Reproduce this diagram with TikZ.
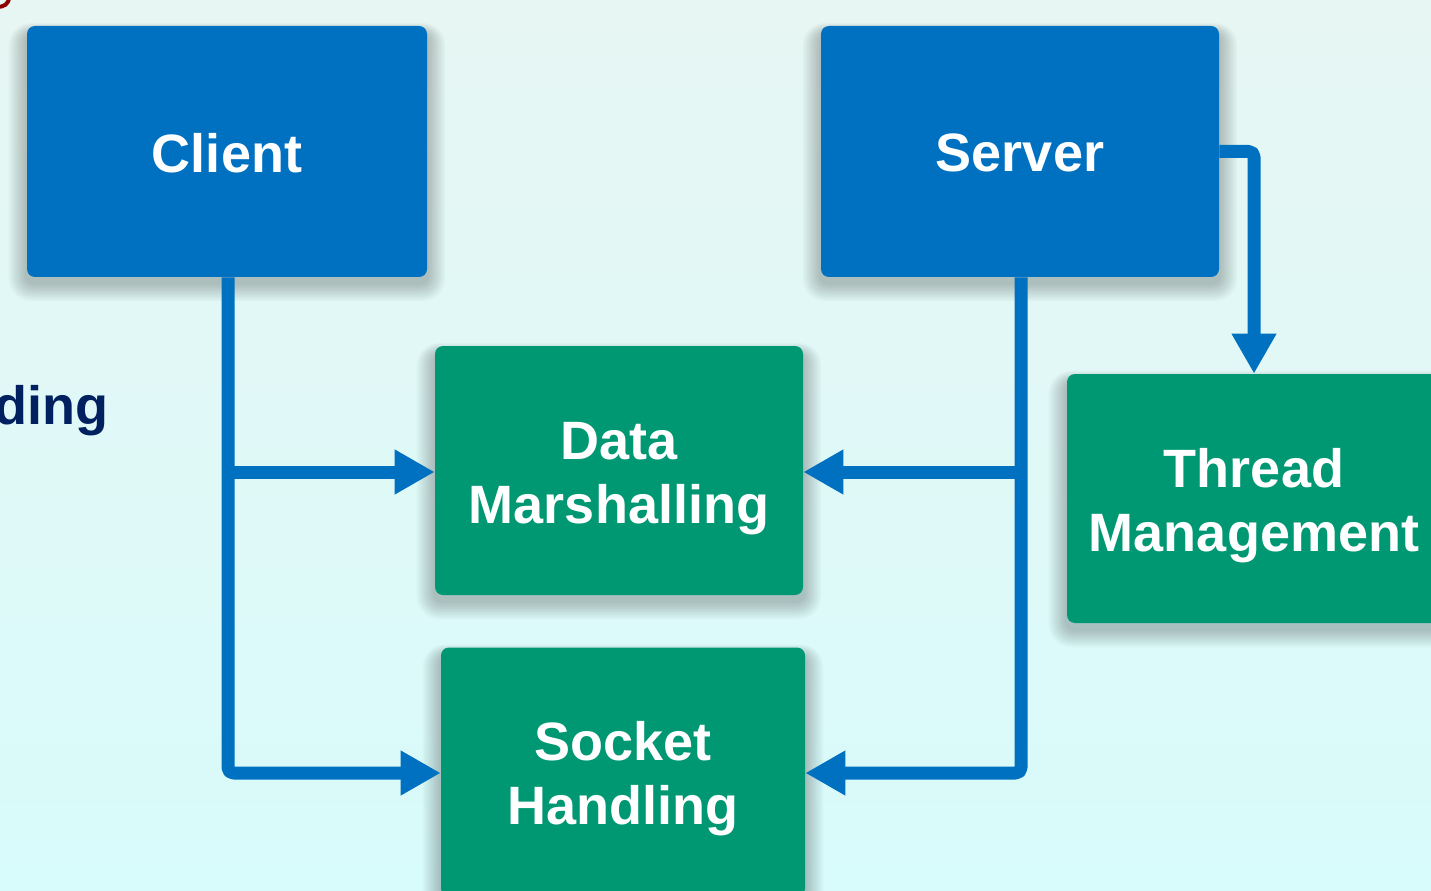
\documentclass[tikz,border=0pt]{standalone}
\usepackage{fontspec}
\setmainfont{Liberation Sans}
\usetikzlibrary{arrows.meta,calc}

\definecolor{bgtop}{HTML}{E7F6F3}
\definecolor{bgbottom}{HTML}{D8FBFB}
\definecolor{boxblue}{HTML}{0070C0}
\definecolor{boxgreen}{HTML}{009872}
\definecolor{navy}{HTML}{002060}
\definecolor{darkred}{HTML}{8E0000}

\pgfdeclarelayer{bg}
\pgfdeclarelayer{shade}
\pgfsetlayers{bg,shade,main}

\tikzset{
  box/.style={rounded corners=6pt, draw=none, inner sep=0pt},
  bluebox/.style={box, fill=boxblue},
  greenbox/.style={box, fill=boxgreen},
  boxtext/.style={text=white, align=center, inner sep=0pt,
    font=\bfseries\fontsize{40.5}{48}\selectfont},
  link/.style={draw=boxblue, line width=9.75pt, rounded corners=4pt,
    line join=round},
  tip/.style={-{Triangle[length=30pt,width=31.5pt]}},
}

\begin{document}
\begin{tikzpicture}[x=0.75pt, y=-0.75pt]
  % page and background
  \useasboundingbox (0,0) rectangle (1431,891);
  \begin{pgfonlayer}{bg}
    \fill[top color=bgtop, bottom color=bgbottom] (0,0) rectangle (1431,891);
  \end{pgfonlayer}

  % fragments of text running in from the left
  \draw[darkred, line width=3pt] (-3,7) .. controls (4,7) and (9,4) .. (9,-3);
  \node[anchor=base east, text=navy, inner sep=0pt,
        font=\bfseries\fontsize{40.5}{48}\selectfont] (ding) at (109,424) {ding};

  % main blocks
  \node[bluebox, minimum width=300pt, minimum height=188.25pt,
        label={[boxtext, yshift=-1pt]center:Client}]
    (client) at (227,151.5) {};
  \node[bluebox, minimum width=298.5pt, minimum height=188.25pt,
        label={[boxtext, yshift=-1pt]center:Server}]
    (server) at (1020,151.5) {};
  \node[greenbox, minimum width=276pt, minimum height=186.75pt,
        label={[boxtext, yshift=-6pt]center:Data\\Marshalling}]
    (data) at (619,470.5) {};
  \node[greenbox, minimum width=273pt, minimum height=186.75pt,
        label={[boxtext, yshift=-5pt]center:Socket\\Handling}]
    (socket) at (623,772) {};
  \node[greenbox, minimum width=280.5pt, minimum height=186.75pt,
        label={[boxtext, yshift=-5.5pt]center:Thread\\Management}]
    (thread) at (1254,498.5) {};

  % soft shadows under the blocks, heavier below than above
  \begin{pgfonlayer}{shade}
    \foreach \n in {client,server,data,socket,thread}{
      \foreach \k in {1,...,12}{
        \pgfmathsetmacro{\e}{1.5*\k}
        \pgfmathsetmacro{\t}{8-0.6*\e}
        \pgfmathsetmacro{\r}{6+0.9*\k}
        \fill[black, opacity=0.02, rounded corners=\r pt]
          ($(\n.south west)+(-\e,\e+6)$) rectangle ($(\n.north east)+(\e,\t)$);
      }
    }
  \end{pgfonlayer}

  % junction points on the trunks
  \coordinate (cj) at (228,472);
  \coordinate (cb) at (228,773);
  \coordinate (sj) at (1021,472);
  \coordinate (sb) at (1021,773);

  % client side
  \draw[link, tip] (client.south -| cb) -- (cb) -- (socket.west |- cb);
  \draw[link, tip] (cj) -- (data.west |- cj);

  % server side
  \draw[link, tip] (server.south -| sb) -- (sb) -- (socket.east |- sb);
  \draw[link, tip] (sj) -- (data.east |- sj);

  % server to thread management
  \draw[link, tip] (server.east) -| (thread.north);
\end{tikzpicture}
\end{document}
